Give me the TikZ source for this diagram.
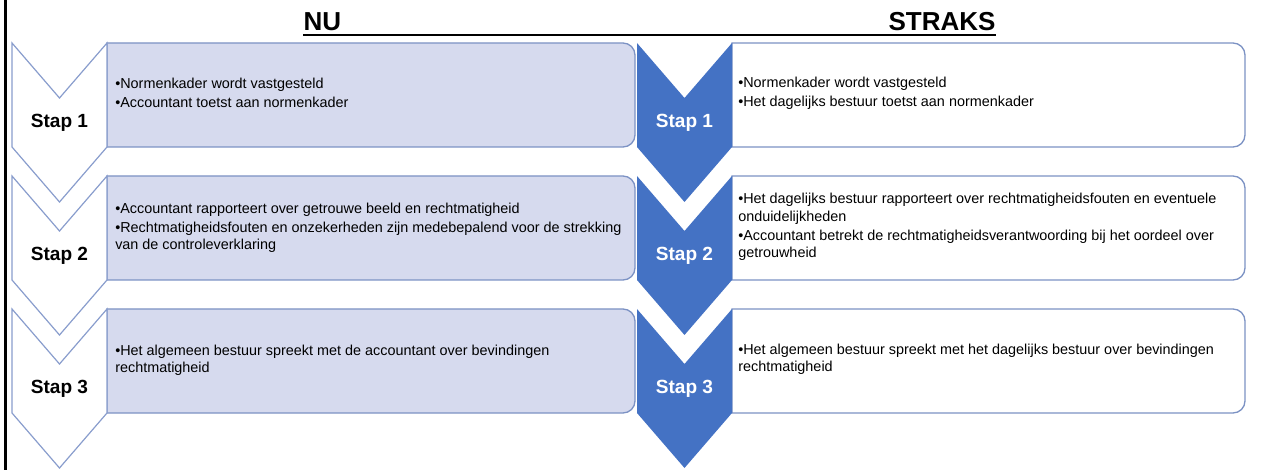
\documentclass[tikz,border=0pt]{standalone}
\usepackage{fontspec}
\setmainfont{Liberation Sans}
\usepackage{xcolor}
\definecolor{nufill}{RGB}{214,218,238}
\definecolor{boxline}{RGB}{124,146,196}
\definecolor{chevline}{RGB}{137,157,205}
\definecolor{chevblue}{RGB}{68,114,196}

\begin{document}
\begin{tikzpicture}[
    x=0.75pt, y=-0.75pt,
    title/.style={font=\fontsize{19.5}{23}\selectfont\bfseries, inner sep=0pt, anchor=base},
    underline/.style={line width=1.5pt},
    nuchevron/.style={draw=chevline, fill=white, line width=0.9pt},
    strakschevron/.style={fill=chevblue},
    nubox/.style={draw=boxline, fill=nufill, line width=1pt},
    straksbox/.style={draw=boxline, fill=white, line width=1pt},
    stap/.style={font=\fontsize{14.3}{17}\selectfont\bfseries},
    bullets/.style={font=\fontsize{10.8}{12.9}\selectfont, align=left, anchor=west, inner sep=0pt}
]
    \useasboundingbox (0,0) rectangle (1268,470);

    % Frame line
    \draw[line width=2pt] (5.5,0) -- (5.5,470);

    % Titles
    \node[title] (nu) at (322.5,31) {NU};
    \node[title] (straks) at (942,31) {STRAKS};
    \draw[underline] ([yshift=-3pt]nu.base west) -- ([yshift=-3pt]straks.base east);

    % NU boxes
    \draw[nubox] (107,43) -- (600,43) [rounded corners=9pt] -- (635,43) -- (635,147) -- (600,147) [sharp corners] -- (107,147) -- cycle;
    \draw[nubox] (107,176) -- (600,176) [rounded corners=9pt] -- (635,176) -- (635,280) -- (600,280) [sharp corners] -- (107,280) -- cycle;
    \draw[nubox] (107,309) -- (600,309) [rounded corners=9pt] -- (635,309) -- (635,413) -- (600,413) [sharp corners] -- (107,413) -- cycle;

    % NU chevrons
    \draw[nuchevron] (12,43) -- ++(47.5,55) -- ++(47.5,-55) -- ++(0,104) -- ++(-47.5,55) -- ++(-47.5,-55) -- cycle;
    \draw[nuchevron] (12,176) -- ++(47.5,55) -- ++(47.5,-55) -- ++(0,104) -- ++(-47.5,55) -- ++(-47.5,-55) -- cycle;
    \draw[nuchevron] (12,309) -- ++(47.5,55) -- ++(47.5,-55) -- ++(0,104) -- ++(-47.5,55) -- ++(-47.5,-55) -- cycle;

    \node[stap] (nustap1) at (59.5,123) {Stap 1};
    \node[stap] (nustap2) at (59.5,256) {Stap 2};
    \node[stap] (nustap3) at (59.5,389) {Stap 3};

    % NU texts
    \node[bullets] (nutext1) at (115,93) {•Normenkader wordt vastgesteld\\[1.5pt]
        •Accountant toetst aan normenkader};
    \node[bullets] (nutext2) at (115,228) {•Accountant rapporteert over getrouwe beeld en rechtmatigheid\\[1.5pt]
        •Rechtmatigheidsfouten en onzekerheden zijn medebepalend voor de strekking\\
        van de controleverklaring};
    \node[bullets] (nutext3) at (115,360) {•Het algemeen bestuur spreekt met de accountant over bevindingen\\
        rechtmatigheid};

    % STRAKS boxes
    \draw[straksbox] (732,43) -- (1200,43) [rounded corners=9pt] -- (1245,43) -- (1245,147) -- (1200,147) [sharp corners] -- (732,147) -- cycle;
    \draw[straksbox] (732,176) -- (1200,176) [rounded corners=9pt] -- (1245,176) -- (1245,280) -- (1200,280) [sharp corners] -- (732,280) -- cycle;
    \draw[straksbox] (732,309) -- (1200,309) [rounded corners=9pt] -- (1245,309) -- (1245,413) -- (1200,413) [sharp corners] -- (732,413) -- cycle;

    % STRAKS chevrons
    \fill[strakschevron] (637,43) -- ++(47.5,55) -- ++(47.5,-55) -- ++(0,104) -- ++(-47.5,55) -- ++(-47.5,-55) -- cycle;
    \fill[strakschevron] (637,176) -- ++(47.5,55) -- ++(47.5,-55) -- ++(0,104) -- ++(-47.5,55) -- ++(-47.5,-55) -- cycle;
    \fill[strakschevron] (637,309) -- ++(47.5,55) -- ++(47.5,-55) -- ++(0,104) -- ++(-47.5,55) -- ++(-47.5,-55) -- cycle;

    \node[stap, white] (straksstap1) at (684.5,123) {Stap 1};
    \node[stap, white] (straksstap2) at (684.5,256) {Stap 2};
    \node[stap, white] (straksstap3) at (684.5,389) {Stap 3};

    % STRAKS texts
    \node[bullets] (strakstext1) at (738,93) {•Normenkader wordt vastgesteld\\[1.5pt]
        •Het dagelijks bestuur toetst aan normenkader};
    \node[bullets] (strakstext2) at (738,227) {•Het dagelijks bestuur rapporteert over rechtmatigheidsfouten en eventuele\\
        onduidelijkheden\\[1.5pt]
        •Accountant betrekt de rechtmatigheidsverantwoording bij het oordeel over\\
        getrouwheid};
    \node[bullets] (strakstext3) at (738,359) {•Het algemeen bestuur spreekt met het dagelijks bestuur over bevindingen\\
        rechtmatigheid};
\end{tikzpicture}
\end{document}
